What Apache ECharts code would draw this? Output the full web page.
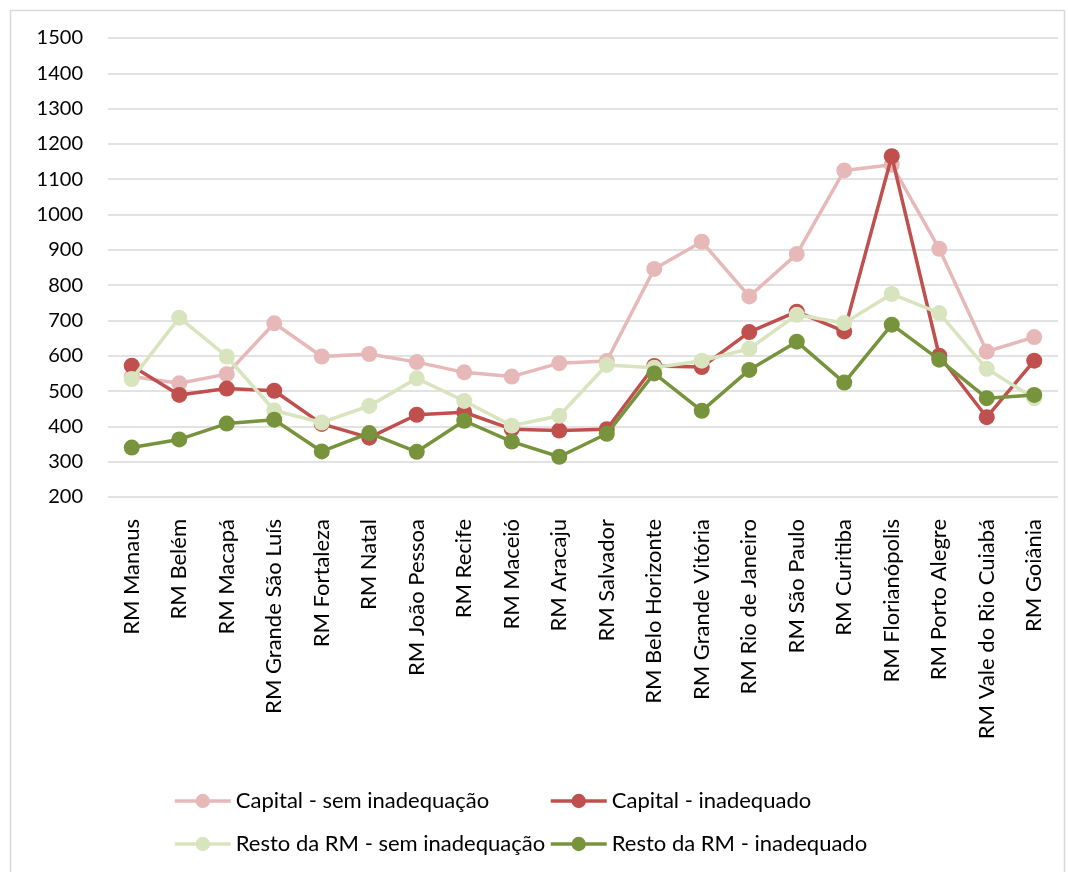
<!DOCTYPE html>
<html><head><meta charset="utf-8">
<script src="https://cdn.jsdelivr.net/npm/echarts@6/dist/echarts.min.js"></script>
<style>html,body{margin:0;padding:0;background:#fff}#c{width:1070px;height:872px}</style>
</head><body><div id="c"></div>
<script>
const categories = ["RM Manaus","RM Belém","RM Macapá","RM Grande São Luís","RM Fortaleza","RM Natal","RM João Pessoa","RM Recife","RM Maceió","RM Aracaju","RM Salvador","RM Belo Horizonte","RM Grande Vitória","RM Rio de Janeiro","RM São Paulo","RM Curitiba","RM Florianópolis","RM Porto Alegre","RM Vale do Rio Cuiabá","RM Goiânia"];
const capitalSem = [541,522,548,692,598,605,582,553,541,579,585,846,923,768,888,1125,1141,903,612,653];
const capitalInad = [572,489,507,501,407,368,433,440,392,388,392,571,568,667,725,669,1165,600,426,586];
const restoSem = [534,708,598,445,411,458,536,472,402,430,574,566,586,620,716,693,775,721,563,480];
const restoInad = [340,363,408,419,329,381,328,416,357,314,379,550,444,560,640,524,688,589,480,489];
const seriesNames = ["Capital - sem inadequação","Capital - inadequado","Resto da RM - sem inadequação","Resto da RM - inadequado"];
const colors = ["#E6B9B8","#C0504D","#D7E4BD","#77933C"];
const yTicks = {min:200, max:1500, interval:100};

const FONT = "Lato";
const chart = echarts.init(document.getElementById('c'), null, {renderer:'canvas'});
const dataArr = [capitalSem, capitalInad, restoSem, restoInad];
const legendPos = [[168,785],[544,785],[168,828],[544,828]];
chart.setOption({
  animation:false,
  textStyle:{fontFamily:FONT},
  graphic:[{type:'rect', shape:{x:10.5,y:10.5,width:1054,height:870}, style:{fill:'none', stroke:'#D9D9D9', lineWidth:1.5}, silent:true}],
  grid:{left:108, right:12, top:38, bottom:375, containLabel:false},
  legend: seriesNames.map((n,i)=>({data:[n], left:legendPos[i][0], top:legendPos[i][1], itemWidth:56, itemHeight:18, itemGap:4,
    lineStyle:{width:3.5}, textStyle:{fontFamily:FONT, fontSize:22, color:'#000'}, selectedMode:false})),
  xAxis:{type:'category', data:categories, boundaryGap:true,
    axisLine:{show:false}, axisTick:{show:false},
    axisLabel:{rotate:90, interval:0, margin:22, fontFamily:FONT, fontSize:22, color:'#000'}},
  yAxis:{type:'value', min:yTicks.min, max:yTicks.max, interval:yTicks.interval,
    axisLine:{show:false}, axisTick:{show:false},
    axisLabel:{margin:25, fontFamily:FONT, fontSize:20, color:'#000', formatter:v=>String(v)},
    splitLine:{lineStyle:{color:'#D9D9D9', width:1.5}}},
  series: dataArr.map((d,i)=>({name:seriesNames[i], type:'line', data:d, symbol:'circle', symbolSize:16,
    lineStyle:{color:colors[i], width:3.5}, itemStyle:{color:colors[i]}, z:2+i}))
});
</script></body></html>
